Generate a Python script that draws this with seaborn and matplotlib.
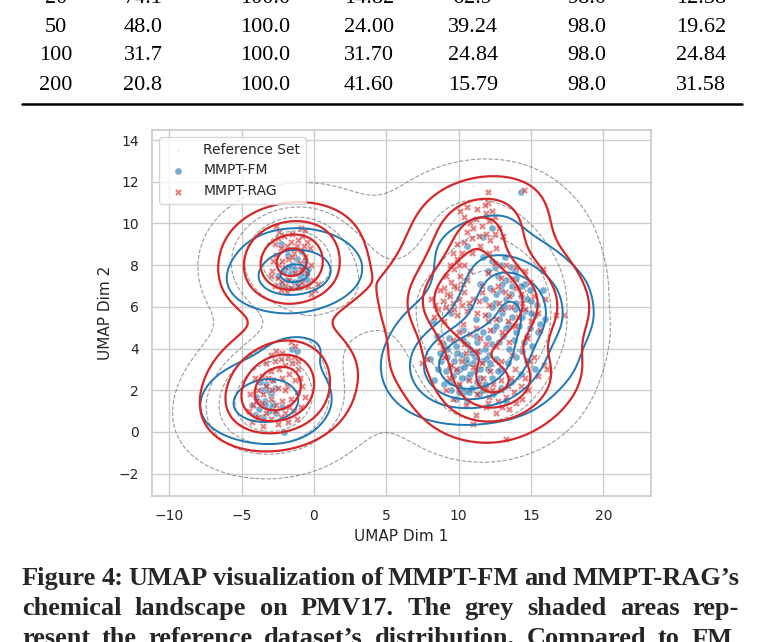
import numpy as np
import pandas as pd
import seaborn as sns
import matplotlib.pyplot as plt
from matplotlib.lines import Line2D

# table rows visible above the figure (page screenshot)
table_rows = [
    ["20", "74.1", "100.0", "14.82", "62.9", "98.0", "12.58"],
    ["50", "48.0", "100.0", "24.00", "39.24", "98.0", "19.62"],
    ["100", "31.7", "100.0", "31.70", "24.84", "98.0", "24.84"],
    ["200", "20.8", "100.0", "41.60", "15.79", "98.0", "31.58"],
]

caption_lines = [
    "Figure 4: UMAP visualization of MMPT-FM and MMPT-RAG\u2019s",
    "chemical landscape on PMV17. The grey shaded areas rep-",
    "resent the reference dataset\u2019s distribution. Compared to FM,",
]

# MMPT-RAG points
rag_top = [(-2.6, 9.9), (-2.4, 9.6), (-2.5, 9.3), (-2.7, 9.0), (-2.3, 8.8), (-2.6, 8.5),
           (-2.8, 8.2), (-2.4, 8.0), (-2.9, 7.7), (-2.5, 7.4), (-2.2, 7.2), (-2.7, 7.0),
           (-2.3, 6.8), (-1.9, 6.7), (-1.5, 9.5), (-1.6, 9.1), (-1.2, 8.9), (-1.4, 8.6),
           (-0.9, 9.8), (-0.6, 9.7), (-0.8, 9.4), (-0.5, 9.1), (-0.3, 8.8), (-0.6, 8.4),
           (-0.2, 8.0), (-0.5, 7.6), (-0.1, 7.3), (-0.4, 7.0), (0.1, 6.8), (-0.2, 6.6),
           (-1.0, 8.1), (-1.8, 8.3), (-1.3, 7.6), (-2.0, 7.9), (-0.8, 7.2), (-1.6, 6.9),
           (0.3, 7.1), (-3.0, 7.5), (-2.1, 9.4), (-1.9, 8.9), (-1.1, 9.2), (-0.7, 8.9),
           (-1.5, 8.4), (-2.2, 8.2), (-0.9, 7.8), (-1.7, 7.3), (-1.1, 7.0), (-2.0, 7.0)]
rag_low = [(-1.6, 4.3), (-1.3, 4.1), (-2.6, 3.9), (-3.0, 3.7), (-2.2, 3.8), (-1.8, 3.6),
           (-2.7, 3.4), (-3.3, 3.3), (-2.0, 3.2), (-1.5, 3.3), (-1.1, 3.0), (-2.4, 3.0),
           (-3.0, 2.9), (-3.6, 2.7), (-4.1, 2.6), (-1.7, 2.8), (-2.2, 2.6), (-2.8, 2.5),
           (-1.3, 2.5), (-0.8, 2.2), (-1.9, 2.2), (-2.5, 2.1), (-3.3, 2.2), (-3.9, 2.0),
           (-4.4, 1.8), (-1.2, 1.9), (-0.6, 1.7), (-1.6, 1.6), (-2.2, 1.5), (-3.0, 1.6),
           (-3.6, 1.4), (-4.2, 1.3), (-4.5, 1.0), (-0.9, 1.2), (-1.4, 1.0), (-2.0, 0.9),
           (-2.7, 1.0), (-3.3, 0.9), (-3.9, 0.7), (-4.3, 0.5), (-1.8, 0.5), (-2.5, 0.4),
           (-3.5, 0.3), (-1.2, 0.6), (-2.9, 2.0), (-2.3, 3.5), (-1.4, 3.6), (-3.2, 2.6),
           (-2.0, 2.0), (-1.0, 2.6), (-2.6, 1.3), (-3.5, 1.8), (-1.7, 1.2), (-2.3, 0.7),
           (-3.0, 0.6), (-4.0, 1.5), (-1.1, 3.4)]
rag_right = [(12.0, 11.5), (14.5, 11.6), (12.0, 11.0), (11.9, 10.5), (12.1, 10.1), (10.1, 10.6),
             (10.4, 10.3), (10.8, 10.0), (11.2, 10.2), (11.6, 9.9), (12.5, 10.3), (12.8, 9.8),
             (10.6, 9.6), (11.9, 9.5), (12.2, 9.2), (10.9, 9.3), (9.9, 9.0), (11.5, 8.9),
             (12.6, 8.8), (13.1, 9.4),
             (10.2, 8.6), (9.9, 8.3), (10.4, 8.0), (9.7, 7.8), (10.1, 7.5), (10.6, 7.3),
             (9.5, 7.2), (9.9, 6.9), (10.4, 6.7), (9.2, 6.6), (8.9, 6.3), (9.6, 6.2),
             (10.2, 6.1), (8.6, 5.9), (9.3, 5.8), (9.9, 5.6), (10.6, 5.8), (8.3, 5.5),
             (9.0, 5.3), (10.3, 5.2), (8.1, 6.4), (11.0, 6.4),
             (12.5, 8.1), (13.3, 8.0), (14.0, 7.9), (14.6, 7.7), (12.0, 7.6), (12.9, 7.4),
             (13.7, 7.3), (14.9, 7.2), (11.6, 7.0), (12.4, 6.8), (13.2, 6.7), (14.3, 6.6),
             (15.2, 6.5), (11.4, 6.3), (12.1, 6.1), (12.8, 6.2), (13.6, 6.0), (14.6, 5.9),
             (15.5, 5.7), (11.8, 5.6), (12.6, 5.4), (13.4, 5.3), (14.1, 5.5), (15.0, 5.3),
             (11.2, 5.0), (12.2, 4.9), (13.0, 4.8), (15.6, 4.9), (16.7, 5.6), (17.3, 5.6),
             (16.0, 6.4), (15.8, 7.8),
             (10.0, 4.8), (10.8, 4.7), (11.5, 4.5), (9.6, 4.4), (10.4, 4.2), (11.9, 4.2),
             (12.6, 4.1), (13.5, 4.3),
             (7.5, 3.3), (7.8, 3.5), (9.0, 3.6), (9.5, 3.2), (10.2, 3.4), (11.0, 3.1),
             (11.6, 3.3), (12.2, 2.9), (9.3, 2.6), (10.0, 2.3), (10.7, 2.5), (11.4, 2.3),
             (11.9, 2.1), (12.4, 2.3), (12.9, 2.0), (13.4, 2.2), (11.3, 1.8), (12.1, 1.7),
             (12.7, 1.5), (13.3, 1.7), (13.8, 1.9), (14.3, 2.2), (14.0, 1.4), (9.6, 1.6),
             (10.5, 1.3), (11.2, 0.8), (11.9, 1.2), (12.6, 0.9), (13.5, 1.1), (11.0, 0.4),
             (13.3, -0.35), (15.9, 3.2), (16.1, 3.0), (14.9, 3.4), (15.5, 2.7), (14.6, 2.6),
             (13.9, 3.0), (8.7, 4.3), (9.1, 2.0),
             (11.3, 10.7), (11.8, 10.9), (12.3, 10.6), (10.6, 10.8), (11.0, 9.8), (11.4, 9.4),
             (12.5, 9.5), (10.4, 9.1), (9.6, 8.6), (10.9, 8.6), (12.1, 8.6), (9.4, 8.0),
             (10.0, 8.0), (10.8, 7.7), (9.1, 7.5), (9.7, 7.0), (10.3, 7.1), (9.0, 6.9),
             (8.7, 6.8), (9.4, 6.5), (10.0, 6.4), (10.7, 6.2), (8.4, 6.1), (9.1, 6.0),
             (9.7, 5.9), (11.3, 5.7), (12.0, 5.3), (11.6, 6.7), (12.7, 7.0), (13.5, 6.5),
             (14.0, 6.9), (13.0, 5.9), (14.4, 6.2), (13.9, 5.1), (11.7, 2.6), (12.3, 2.0),
             (12.9, 2.5), (13.6, 2.6), (12.0, 1.4), (13.0, 1.2), (14.4, 1.6), (14.8, 2.0),
             (10.5, 3.8), (11.3, 3.9), (9.8, 3.0), (8.9, 4.0), (12.9, 3.4), (13.7, 3.7),
             (15.2, 3.6), (14.7, 4.5)]

# MMPT-FM points
fm_top = [(-2.3, 9.0), (-1.8, 8.5), (-1.2, 8.3), (-0.9, 8.7), (-1.5, 8.0), (-0.8, 7.9),
          (-2.1, 7.7), (-1.6, 7.6), (-1.0, 7.5), (-0.5, 7.3), (-1.9, 7.3), (-1.4, 7.2),
          (-2.3, 7.1), (-0.9, 7.0), (-1.7, 6.9), (-1.2, 6.95), (-0.4, 7.8), (-2.5, 7.5),
          (-0.6, 8.2), (-1.3, 7.8), (-0.7, 7.6), (-1.8, 7.9), (-1.1, 7.2)]
fm_low = [(-1.5, 4.0), (-1.2, 3.9), (-2.9, 2.5), (-3.3, 2.3), (-2.7, 2.1), (-3.6, 2.0),
          (-3.0, 1.8), (-4.0, 1.7), (-3.4, 1.5), (-2.8, 1.4), (-4.3, 1.3), (-3.8, 1.1),
          (-3.1, 1.0), (-2.6, 0.9), (-4.1, 0.8), (-3.5, 0.7), (-2.1, 0.0), (-2.2, 1.2),
          (-3.7, 2.4), (-3.2, 2.0), (-3.9, 1.5), (-2.9, 1.2), (-3.4, 1.3)]
fm_right = [(8.2, 5.3), (8.5, 4.6), (8.9, 4.2), (9.3, 4.5), (9.8, 4.1), (10.3, 4.4),
            (10.8, 4.0), (11.3, 4.3), (11.8, 4.0), (12.3, 4.2), (8.7, 3.8), (9.2, 3.6),
            (9.7, 3.4), (10.2, 3.7), (10.6, 3.3), (11.1, 3.6), (11.6, 3.4), (12.1, 3.7),
            (12.6, 3.5), (8.6, 3.0), (9.1, 2.9), (9.6, 2.7), (10.1, 3.0), (10.6, 2.6),
            (11.1, 2.9), (11.5, 2.6), (12.0, 3.0), (9.0, 2.3), (9.5, 2.0), (10.0, 2.2),
            (10.4, 1.9), (10.9, 2.1), (11.4, 1.8), (9.8, 1.6), (10.6, 1.5), (11.8, 2.3),
            (12.9, 3.0), (13.4, 3.3), (8.0, 3.5), (8.3, 2.5), (10.3, 4.9), (11.7, 4.8),
            (11.7, 8.4), (12.3, 8.2), (12.9, 8.0), (13.6, 7.9), (12.0, 7.7), (12.7, 7.5),
            (13.3, 7.3), (14.0, 7.4), (14.6, 7.1), (11.5, 7.1), (12.2, 6.9), (12.9, 6.8),
            (13.6, 6.6), (14.3, 6.5), (15.0, 6.3), (11.8, 6.4), (12.5, 6.2), (13.2, 6.0),
            (13.9, 5.9), (14.6, 5.8), (15.3, 5.6), (12.0, 5.6), (12.8, 5.4), (13.5, 5.2),
            (14.2, 5.1), (14.9, 5.0), (15.5, 4.8), (12.4, 4.9), (13.1, 4.6), (13.8, 4.4),
            (14.5, 4.3), (15.1, 4.1), (14.0, 3.6), (14.7, 3.4), (15.3, 3.0), (14.3, 2.8),
            (13.6, 2.4), (12.9, 2.1), (12.4, 1.8), (13.3, 1.5),
            (11.7, 9.35), (12.3, 9.8), (10.6, 8.9), (14.3, 11.5), (10.8, 6.0), (11.2, 5.4),
            (9.5, 5.7), (15.8, 6.8), (16.0, 5.4),
            (10.9, 3.8), (11.4, 3.9), (10.5, 3.5), (11.0, 3.3), (11.5, 3.0), (10.8, 2.8),
            (11.3, 2.4), (10.2, 2.6), (9.9, 2.9), (10.4, 3.1), (11.9, 3.5), (12.2, 3.3),
            (9.4, 3.1), (9.9, 3.8), (10.6, 4.2), (11.2, 4.6), (12.0, 4.5), (9.2, 4.0),
            (8.8, 3.4), (9.4, 2.4), (10.7, 1.9), (11.7, 2.0), (12.3, 2.6), (12.7, 2.9),
            (10.0, 1.9), (13.0, 7.1), (13.7, 7.0), (14.3, 7.0), (12.6, 6.6), (13.3, 6.4),
            (14.0, 6.2), (14.7, 6.4), (12.3, 6.0), (13.0, 5.7), (13.7, 5.5), (14.4, 5.5),
            (15.0, 5.7), (12.6, 5.1), (13.3, 5.0), (14.0, 4.8), (14.7, 4.6), (13.5, 4.0),
            (12.8, 4.3), (13.9, 7.7), (12.5, 7.9), (13.2, 8.4), (14.9, 6.8), (15.4, 6.1),
            (15.6, 5.2), (14.4, 3.9)]

# reference set (drawn almost invisible, shown through its density contours)
ref_pts = [(-3.5, 9.8), (-2.0, 10.3), (-0.5, 10.2), (0.8, 9.4), (1.5, 8.3), (-4.0, 8.5),
           (-3.2, 8.0), (-2.2, 8.6), (-1.2, 8.9), (-0.2, 8.5), (0.6, 7.8), (-2.7, 7.2),
           (-1.5, 7.5), (-0.6, 7.0), (-3.8, 7.0), (0.2, 6.5), (-1.9, 6.4), (3.0, 7.8),
           (-1.0, 9.6), (-2.8, 9.2),
           (-5.5, 2.0), (-6.0, 1.0), (-4.8, 3.0), (-3.8, 3.8), (-2.5, 4.4), (-1.0, 4.0),
           (0.2, 3.0), (0.8, 1.5), (0.3, 0.0), (-1.0, -0.5), (-2.8, -0.6), (-4.5, -0.2),
           (-5.2, 0.3), (-4.2, 1.8), (-3.3, 2.6), (-2.4, 3.2), (-1.6, 2.4), (-0.8, 1.2),
           (-2.0, 0.6), (-3.2, 1.0), (-3.8, 0.4), (-2.6, 1.8), (-1.4, 1.4), (-3.0, 2.2),
           (1.5, 5.5), (3.2, 6.0), (4.6, 6.5), (2.5, 4.8),
           (7.5, 10.5), (9.0, 11.3), (11.0, 11.8), (13.5, 11.6), (15.5, 10.5), (16.8, 9.0),
           (17.5, 7.0), (17.8, 4.5), (17.0, 2.5), (15.8, 1.0), (14.0, 0.0), (11.5, -0.2),
           (9.0, 0.5), (7.2, 2.0), (6.5, 4.5), (6.8, 7.0), (7.5, 8.8),
           (9.5, 9.5), (11.0, 10.0), (12.8, 10.0), (14.5, 9.0), (15.5, 7.5), (16.0, 5.5),
           (15.5, 3.5), (14.0, 2.0), (12.0, 1.2), (10.0, 1.5), (8.5, 3.0), (8.2, 5.0),
           (8.6, 7.0), (10.0, 8.0), (11.5, 8.5), (13.0, 8.0), (14.2, 6.8), (14.6, 5.0),
           (13.5, 3.5), (12.0, 3.0), (10.5, 3.0), (9.6, 4.5), (10.2, 6.0), (11.5, 6.5),
           (12.8, 5.8), (13.0, 4.5), (11.2, 4.8), (12.0, 5.5), (11.0, 7.0), (12.5, 7.0),
           (13.5, 6.0), (10.5, 5.0), (11.5, 3.8), (12.2, 4.2)]

ref = pd.DataFrame(ref_pts, columns=["x", "y"])
fm = pd.DataFrame(fm_top + fm_low + fm_right, columns=["x", "y"])
rag = pd.DataFrame(rag_top + rag_low + rag_right, columns=["x", "y"])

sns.set_theme(style="whitegrid")
BLUE = "#1f77b4"
RED = "#d62728"

fig = plt.figure(figsize=(7.58, 6.42), dpi=100)
ax = fig.add_axes([152 / 758, 1 - 496 / 642, 499 / 758, 366 / 642])

sns.kdeplot(data=ref, x="x", y="y", levels=5, bw_adjust=0.8, color="gray",
            linestyles="--", linewidths=0.8, alpha=0.8, ax=ax)
sns.scatterplot(data=ref, x="x", y="y", s=3, color="lightgray", alpha=0.3,
                edgecolor=None, label="Reference Set", ax=ax)
sns.scatterplot(data=fm, x="x", y="y", s=26, color=BLUE, alpha=0.6,
                label="MMPT-FM", ax=ax)
sns.scatterplot(data=rag, x="x", y="y", s=26, color=RED, alpha=0.6, marker="X",
                label="MMPT-RAG", ax=ax)
sns.kdeplot(data=fm, x="x", y="y", levels=5, bw_adjust=0.75, color=BLUE,
            linewidths=1.4, ax=ax)
sns.kdeplot(data=rag, x="x", y="y", levels=5, thresh=0.08, bw_adjust=0.9, color=RED,
            linewidths=1.6, ax=ax)

ax.set_xlim(-11.2, 23.3)
ax.set_ylim(-3.07, 14.48)
ax.set_xlabel("UMAP Dim 1", fontsize=11)
ax.set_ylabel("UMAP Dim 2", fontsize=11)
ax.tick_params(labelsize=10)
ax.legend(loc="upper left", fontsize=10)

# table fragment at the top of the page
col_x = [56, 143, 265, 369, 473, 587, 701]
row_y = [-2, 27, 56, 85]
for r, row in enumerate(table_rows):
    for c, val in enumerate(row):
        fig.text(col_x[c] / 758, 1 - row_y[r] / 642, val, ha="center", va="center",
                 fontsize=16, family="Liberation Serif", color="black")
fig.add_artist(Line2D([22 / 758, 742 / 758], [1 - 104 / 642] * 2, lw=1.8, color="black"))

# justified bold caption
fig.canvas.draw()
renderer = fig.canvas.get_renderer()
x0, x1 = 22, 739
for i, line in enumerate(caption_lines):
    words = line.split(" ")
    base = 585 + 30 * i
    tx = [fig.text(0, 1 - base / 642, w, fontsize=19, family="Liberation Serif",
                   weight="bold", ha="left", va="baseline") for w in words]
    widths = [t.get_window_extent(renderer).width for t in tx]
    gap = (x1 - x0 - sum(widths)) / (len(words) - 1)
    pos = x0
    for t, w in zip(tx, widths):
        t.set_x(pos / 758)
        pos += w + gap

fig.savefig("out.png", dpi=100)
